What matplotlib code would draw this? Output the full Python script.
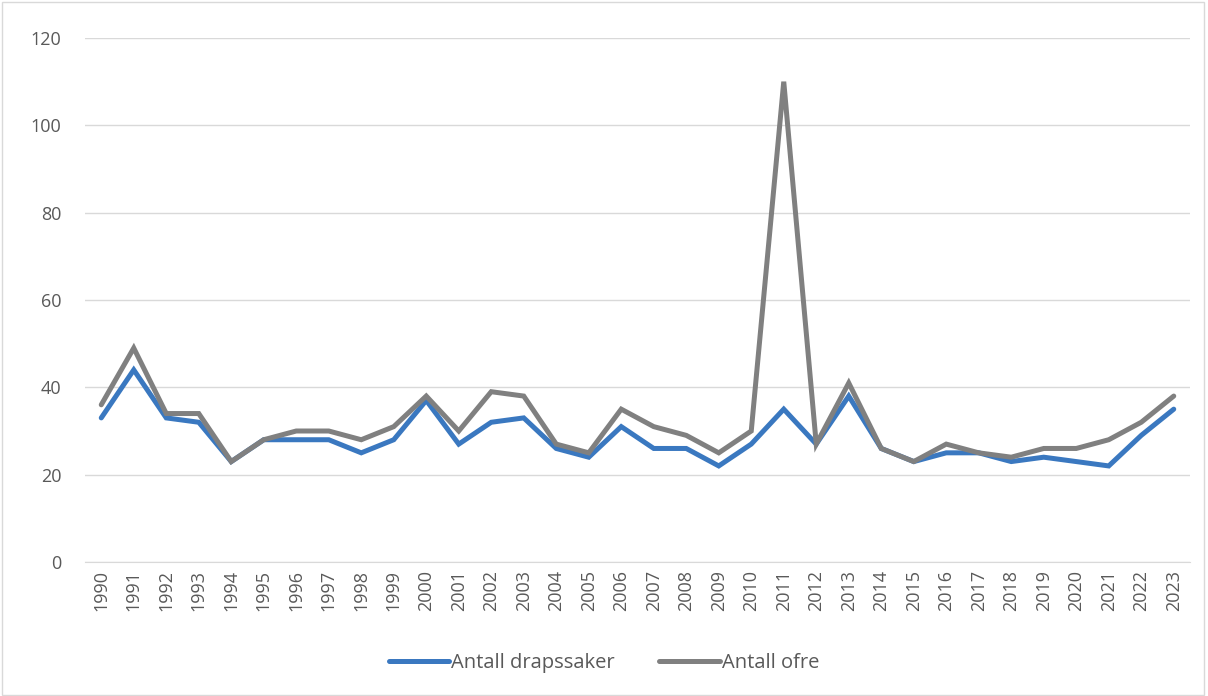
import matplotlib.pyplot as plt
from matplotlib.patches import Rectangle

years = [str(y) for y in range(1990, 2024)]
drapssaker = [33, 44, 33, 32, 23, 28, 28, 28, 25, 28, 37, 27, 32, 33, 26, 24, 31,
              26, 26, 22, 27, 35, 27, 38, 26, 23, 25, 25, 23, 24, 23, 22, 29, 35]
ofre = [36, 49, 34, 34, 23, 28, 30, 30, 28, 31, 38, 30, 39, 38, 27, 25, 35,
        31, 29, 25, 30, 110, 27, 41, 26, 23, 27, 25, 24, 26, 26, 28, 32, 38]

plt.rcParams['font.family'] = ['Open Sans', 'DejaVu Sans']
txt = '#595959'

fig = plt.figure(figsize=(12.08, 6.96), dpi=100)
fig.patches.append(Rectangle((0.002, 0.002), 0.995, 0.995, transform=fig.transFigure,
                             fill=False, edgecolor='#d9d9d9', linewidth=1))
ax = fig.add_axes([85 / 1208, 1 - 562 / 696, 1105 / 1208, 524 / 696])

x = range(len(years))
ax.plot(x, drapssaker, color='#3A78C0', lw=3.6, solid_capstyle='round',
        solid_joinstyle='miter', label='Antall drapssaker')
ax.plot(x, ofre, color='#808080', lw=3.6, solid_capstyle='round',
        solid_joinstyle='miter', label='Antall ofre')

ax.set_xlim(-0.5, len(years) - 0.5)
ax.set_ylim(0, 120)
ax.set_yticks(range(0, 121, 20))
ax.set_xticks(list(x))
ax.set_xticklabels(years, rotation=90)
ax.tick_params(axis='both', length=0, colors=txt, labelsize=13)
ax.tick_params(axis='y', pad=17)
ax.tick_params(axis='x', pad=6)
ax.grid(axis='y', color='#d9d9d9', lw=1)
ax.set_axisbelow(True)
for s in ['top', 'right', 'left']:
    ax.spines[s].set_visible(False)
ax.spines['bottom'].set_color('#d9d9d9')

leg = fig.legend(loc='center', bbox_to_anchor=(0.5, 1 - 663 / 696), ncol=2,
                 frameon=False, fontsize=14.5, handlelength=3.0, handletextpad=0.1,
                 columnspacing=2.2)
for t in leg.get_texts():
    t.set_color(txt)

fig.savefig('out.png', dpi=100)
